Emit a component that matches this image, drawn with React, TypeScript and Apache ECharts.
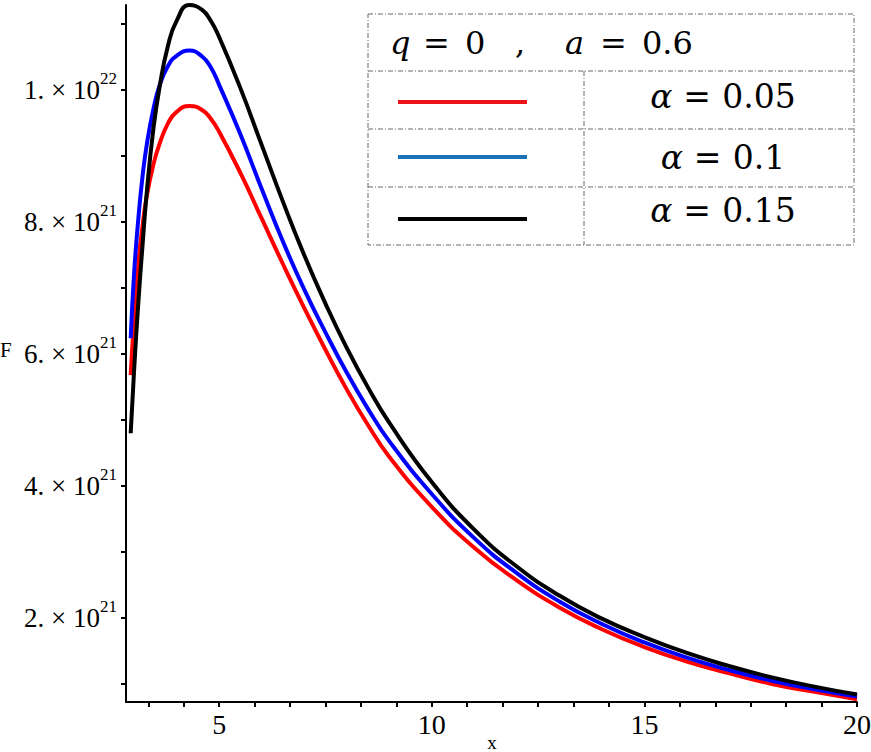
import React, { useEffect, useRef } from "react";
import * as echarts from "echarts";

// x values (shared by all three curves)
const xValues = [2.92, 3.0, 3.1, 3.2, 3.3, 3.45, 3.6, 3.8, 4.0, 4.3, 4.6, 4.8, 5.0, 5.5, 6.0, 6.5, 7.0, 7.5, 8.0, 8.5, 9.0, 10, 11, 12, 13, 14, 15, 16, 17, 18, 19, 20];
// F values in units of 10^21
const redF = [5.68, 6.52, 7.37, 7.95, 8.4, 8.86, 9.19, 9.5, 9.67, 9.76, 9.7, 9.57, 9.37, 8.745, 8.055, 7.365, 6.7, 6.065, 5.465, 4.925, 4.445, 3.685, 3.065, 2.57, 2.16, 1.83, 1.56, 1.34, 1.16, 1.0, 0.88, 0.77];
const blueF = [6.24, 7.22, 8.05, 8.7, 9.18, 9.7, 10.07, 10.37, 10.52, 10.6, 10.51, 10.35, 10.08, 9.33, 8.505, 7.705, 6.98, 6.33, 5.72, 5.17, 4.68, 3.88, 3.21, 2.68, 2.25, 1.91, 1.63, 1.4, 1.21, 1.05, 0.92, 0.81];
const blackF = [4.8, 5.75, 6.78, 7.66, 8.46, 9.39, 10.05, 10.68, 11.05, 11.29, 11.215, 11.055, 10.805, 10.03, 9.17, 8.31, 7.5, 6.765, 6.095, 5.495, 4.96, 4.06, 3.34, 2.78, 2.34, 1.99, 1.71, 1.47, 1.27, 1.1, 0.96, 0.84];

const seriesAlpha = ["0.05", "0.1", "0.15"];
const seriesNames = seriesAlpha.map((a) => `α = ${a}`);
const curveColors = ["#ff0000", "#0000ff", "#000000"];
const swatchColors = ["#ec1318", "#1a72b8", "#000000"];
const legendQ = "0";
const legendA = "0.6";

// axis ticks / labels
const xLabelValues = [5, 10, 15, 20];
const xMinorPerMajor = 6;
const yLabelValues = [2, 4, 6, 8, 10];
const yLabelMantissa = ["2.", "4.", "6.", "8.", "1."];
const yLabelExp = ["21", "21", "21", "21", "22"];
const yTickValues = [1, 2, 3, 4, 5, 6, 7, 8, 9, 10, 11];
const X_MIN = 2.81;
const X_MAX = 20;
const Y_MIN = 0.727;
const Y_MAX = 11.29;

function buildXTicks(): number[] {
  const out: number[] = [];
  const step = 5 / xMinorPerMajor;
  for (let k = 0; k <= (X_MAX * xMinorPerMajor) / 5; k++) {
    const v = Math.round(k * step * 1e6) / 1e6;
    if (v > X_MIN && v <= X_MAX) out.push(v);
  }
  return out;
}

export default function App() {
  const ref = useRef<HTMLDivElement>(null);
  useEffect(() => {
    if (!ref.current) return;
    const chart = echarts.init(ref.current, null, { renderer: "svg" });
    const serif = "Liberation Serif";
    const mathFont = "DejaVu Serif";
    const datasets = [redF, blueF, blackF];

    const legendLeft = 368, legendTop = 14, legendRight = 854, legendBottom = 245;
    const rowY = [71, 129, 187];
    const rowTextY = [96, 157, 210];
    const swatchY = [102, 157, 219];
    const divX = 584;
    const dashStyle = { stroke: "#6a6a6a", lineWidth: 1, lineDash: [5, 2, 1, 2] };

    const tok = (size: number, w: number | undefined, italic = false) => ({
      fontFamily: mathFont,
      fontStyle: italic ? "italic" : "normal",
      fontSize: size,
      fill: "#000",
      ...(w ? { width: w } : {}),
      align: "left",
    });

    const graphics: any[] = [
      {
        type: "rect",
        shape: { x: legendLeft, y: legendTop, width: legendRight - legendLeft, height: legendBottom - legendTop },
        style: { fill: "#fff", ...dashStyle },
        z: 10,
      },
      ...rowY.map((y) => ({
        type: "line",
        shape: { x1: legendLeft, y1: y, x2: legendRight, y2: y },
        style: { ...dashStyle },
        z: 11,
      })),
      {
        type: "line",
        shape: { x1: divX, y1: rowY[0], x2: divX, y2: legendBottom },
        style: { ...dashStyle },
        z: 11,
      },
      {
        type: "text",
        x: 390,
        y: 43,
        style: {
          text: `{q|q }{e|= }{z|${legendQ} }{c|, }{a|a }{e|= }{v|${legendA}}`,
          rich: {
            q: tok(32, 33, true),
            e: tok(32, 42),
            z: tok(32, 50),
            c: tok(32, 50),
            a: tok(32, 35, true),
            v: tok(32, undefined),
          },
          verticalAlign: "middle",
          align: "left",
        },
        z: 12,
      },
      ...seriesAlpha.map((a, i) => ({
        type: "line",
        shape: { x1: 398, y1: swatchY[i], x2: 527, y2: swatchY[i] },
        style: { stroke: swatchColors[i], lineWidth: 4 },
        z: 12,
      })),
      ...seriesAlpha.map((a, i) => ({
        type: "text",
        x: 723,
        y: rowTextY[i],
        style: {
          text: `{g|α }{e|= }{v|${a}}`,
          rich: { g: tok(33, 33, true), e: tok(33, 39), v: tok(33, undefined) },
          verticalAlign: "middle",
          align: "center",
        },
        z: 12,
      })),
      {
        type: "text",
        x: 0,
        y: 350,
        style: { text: "F", fontFamily: serif, fontSize: 21, fill: "#000", verticalAlign: "middle", align: "left" },
      },
      {
        type: "text",
        x: 492,
        y: 742,
        style: { text: "x", fontFamily: serif, fontSize: 19, fill: "#000", verticalAlign: "middle", align: "center" },
      },
    ];

    const option: any = {
      animation: false,
      backgroundColor: "#fff",
      grid: { left: 126, top: 5, width: 731, height: 697, containLabel: false, outerBoundsMode: "none" },
      xAxis: {
        type: "value",
        min: X_MIN,
        max: X_MAX,
        axisLine: { show: true, onZero: false, lineStyle: { color: "#000", width: 2 } },
        axisTick: { show: true, length: 5, lineStyle: { color: "#000", width: 2 }, customValues: buildXTicks() },
        axisLabel: {
          customValues: xLabelValues,
          margin: 8,
          color: "#000",
          fontFamily: serif,
          fontSize: 28,
          formatter: (v: number) => String(v),
        },
        splitLine: { show: false },
      },
      yAxis: {
        type: "value",
        min: Y_MIN,
        max: Y_MAX,
        axisLine: { show: true, onZero: false, lineStyle: { color: "#000", width: 2 } },
        axisTick: { show: true, length: 5, lineStyle: { color: "#000", width: 2 }, customValues: yTickValues },
        axisLabel: {
          customValues: yLabelValues,
          margin: 9,
          color: "#000",
          formatter: (v: number) => {
            const i = yLabelValues.indexOf(Math.round(v));
            return `{m|${yLabelMantissa[i]} × 10}{s|${yLabelExp[i]}}`;
          },
          rich: {
            m: { fontFamily: serif, fontSize: 27, lineHeight: 40, color: "#000" },
            s: { fontFamily: serif, fontSize: 17, verticalAlign: "top", color: "#000" },
          },
        },
        splitLine: { show: false },
      },
      series: datasets.map((d, i) => ({
        name: seriesNames[i],
        type: "line",
        data: xValues.map((x, k) => [x, d[k]]),
        showSymbol: false,
        smooth: 0.5,
        lineStyle: { color: curveColors[i], width: 4 },
        z: 2 + i,
      })),
      graphic: graphics,
    };
    chart.setOption(option);
    return () => chart.dispose();
  }, []);
  return (
    <div
      ref={ref}
      style={{ position: "absolute", left: 0, top: 0, width: 871, height: 752, background: "#fff" }}
    />
  );
}
